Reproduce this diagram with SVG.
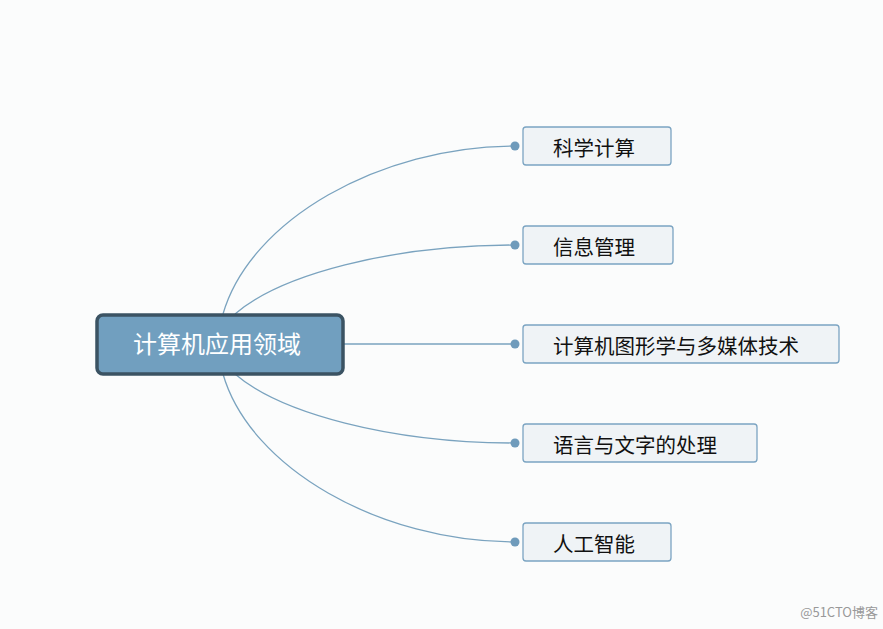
<svg xmlns="http://www.w3.org/2000/svg" width="883" height="629" viewBox="0 0 883 629">
<style>
.c{fill:none;stroke:#7aa3bf;stroke-width:1.3}
.d{fill:#6f9bbb}
.n rect{fill:#eff3f6;stroke:#7ba4c2;stroke-width:1.3}
.n text{font-family:"Noto Sans CJK SC",sans-serif;font-size:20.5px;fill:#111}
</style>
<rect width="883" height="629" fill="#fbfcfc"/>
<g id="connectors">
<path class="c" d="M223,314 C250,220 380,146 515,146"/>
<path class="c" d="M235,314 C280,275 390,245 515,245"/>
<path class="c" d="M344,344 L515,344"/>
<path class="c" d="M235,374 C280,413 390,443 515,443"/>
<path class="c" d="M223,374 C250,468 380,542 515,542"/>
<circle class="d" cx="515" cy="146" r="4.5"/>
<circle class="d" cx="515" cy="245" r="4.5"/>
<circle class="d" cx="515" cy="344" r="4.5"/>
<circle class="d" cx="515" cy="443" r="4.5"/>
<circle class="d" cx="515" cy="542" r="4.5"/>
</g>
<g id="root">
<rect x="97" y="315" width="246" height="59" rx="6" fill="#719fbf" stroke="#3b5363" stroke-width="3.5"/>
<text x="217" y="353" text-anchor="middle" font-family="Noto Sans CJK SC,sans-serif" font-size="24" fill="#fff">计算机应用领域</text>
</g>
<g id="n1" class="n"><rect x="523" y="127" width="148" height="38" rx="3"/><text x="553" y="156">科学计算</text></g>
<g id="n2" class="n"><rect x="523" y="226" width="150" height="38" rx="3"/><text x="553" y="255">信息管理</text></g>
<g id="n3" class="n"><rect x="523" y="325" width="316" height="38" rx="3"/><text x="553" y="354">计算机图形学与多媒体技术</text></g>
<g id="n4" class="n"><rect x="523" y="424" width="234" height="38" rx="3"/><text x="553" y="453">语言与文字的处理</text></g>
<g id="n5" class="n"><rect x="523" y="523" width="148" height="38" rx="3"/><text x="553" y="552">人工智能</text></g>
<text x="878" y="617" text-anchor="end" font-family="Noto Sans CJK SC,sans-serif" font-size="13" fill="#999">@51CTO博客</text>
</svg>
